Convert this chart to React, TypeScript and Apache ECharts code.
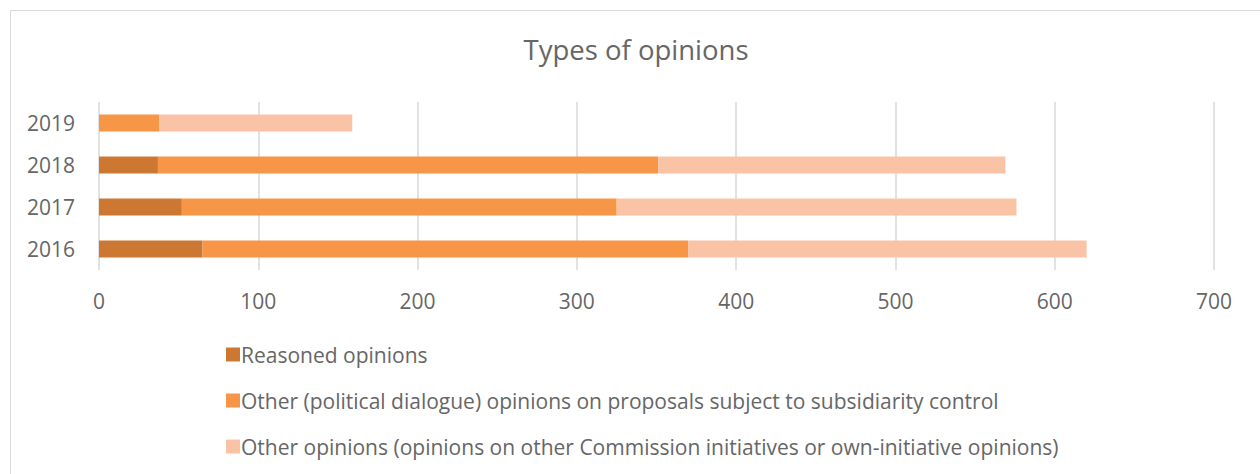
import React, { useEffect, useRef } from "react";
import * as echarts from "echarts";

const years = ["2016", "2017", "2018", "2019"];
const reasoned = [65, 52, 37, 0];
const politicalDialogue = [305, 273, 314, 38];
const otherOpinions = [250, 251, 218, 121];
const xTicks = { min: 0, max: 700, interval: 100 };
const seriesNames = [
  "Reasoned opinions",
  "Other (political dialogue) opinions on proposals subject to subsidiarity control",
  "Other opinions (opinions on other Commission initiatives or own-initiative opinions)",
];
const colors = ["#CC7832", "#F79646", "#FAC3A6"];

export default function App() {
  const ref = useRef<HTMLDivElement>(null);
  useEffect(() => {
    document.body.style.margin = "0";
    const chart = echarts.init(ref.current!, null, { renderer: "svg" });
    const font = "'Open Sans', sans-serif";
    const textColor = "#666666";
    const values = [reasoned, politicalDialogue, otherOpinions];
    chart.setOption({
      animation: false,
      textStyle: { fontFamily: font },
      title: {
        text: "Types of opinions",
        left: 631,
        textAlign: "center",
        top: 30,
        textStyle: { fontFamily: font, fontSize: 27.5, fontWeight: "normal", color: textColor },
      },
      graphic: [
        {
          type: "rect",
          shape: { x: 10.5, y: 10.5, width: 1260, height: 480 },
          style: { fill: "none", stroke: "#D9D9D9", lineWidth: 1 },
          silent: true,
        },
      ],
      legend: {
        orient: "vertical",
        left: 221,
        top: 339,
        itemWidth: 14,
        itemHeight: 14,
        itemGap: 25,
        icon: "rect",
        textStyle: { fontFamily: font, fontSize: 21, color: textColor, padding: [0, 0, 0, -4] },
        data: seriesNames,
      },
      grid: { left: 99, right: 46, top: 102, bottom: 204, containLabel: false },
      xAxis: {
        type: "value",
        min: xTicks.min,
        max: xTicks.max,
        interval: xTicks.interval,
        axisLine: { show: false },
        axisTick: { show: false },
        splitLine: { lineStyle: { color: "#D9D9D9", width: 1.5 } },
        axisLabel: { fontFamily: font, fontSize: 21, color: textColor, margin: 20 },
      },
      yAxis: {
        type: "category",
        data: years,
        axisLine: { show: false },
        axisTick: { show: false },
        axisLabel: { fontFamily: font, fontSize: 21, color: textColor, margin: 24 },
      },
      series: seriesNames.map((name, i) => ({
        name,
        type: "bar",
        stack: "total",
        barWidth: 17,
        itemStyle: { color: colors[i] },
        data: values[i],
      })),
    });
    return () => chart.dispose();
  }, []);
  return <div ref={ref} style={{ width: 1260, height: 474 }} />;
}
